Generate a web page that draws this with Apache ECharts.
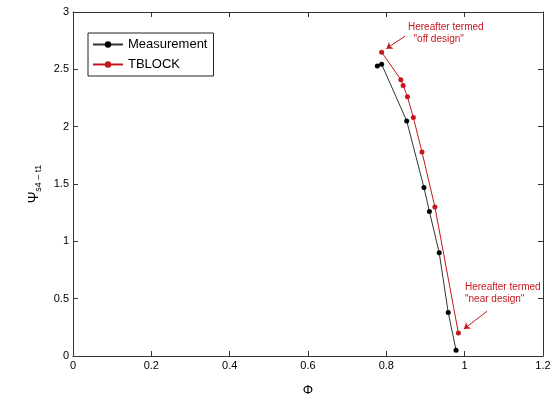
<!DOCTYPE html>
<html>
<head>
<meta charset="utf-8">
<script src="https://cdn.jsdelivr.net/npm/echarts@6/dist/echarts.min.js"></script>
<style>
  html, body { margin: 0; padding: 0; background: #fff; }
  #chart { width: 555px; height: 408px; }
</style>
</head>
<body>
<div id="chart"></div>
<script>
// measured vs TBLOCK loading coefficient
var measurePhi = [0.777, 0.788, 0.852, 0.896, 0.910, 0.935, 0.958, 0.978];
var measurePsi = [2.53, 2.545, 2.05, 1.47, 1.26, 0.90, 0.38, 0.05];
var tblockPhi = [0.788, 0.837, 0.843, 0.854, 0.869, 0.891, 0.924, 0.984];
var tblockPsi = [2.65, 2.41, 2.36, 2.26, 2.08, 1.78, 1.30, 0.20];

// annotation arrows (data coords): [fromX, fromY, toX, toY]
var offArrow = [0.848, 2.79, 0.800, 2.68];
var nearArrow = [1.057, 0.39, 0.998, 0.235];

var red = "#c4161c";

function pairs(xs, ys) {
  return xs.map(function (x, i) {
    return [x, ys[i]];
  });
}

var Chart1 = echarts.init(document.getElementById("chart"));
option = {
  animation: false,
  textStyle: { fontFamily: "Liberation Sans" },
  grid: { left: 73, right: 12, top: 12, bottom: 52 },
  legend: {
    left: 88,
    top: 33,
    orient: "vertical",
    itemGap: 7,
    itemWidth: 30,
    itemHeight: 8,
    padding: [5, 6, 5, 4],
    borderColor: "#222",
    borderWidth: 1,
    textStyle: { fontSize: 13, color: "#000" },
    data: ["Measurement", "TBLOCK"]
  },
  xAxis: [
    {
      type: "value",
      min: 0,
      max: 1.2,
      interval: 0.2,
      name: "Φ",
      nameLocation: "middle",
      nameGap: 28,
      nameTextStyle: { fontSize: 13, color: "#000" },
      axisLine: { onZero: false, lineStyle: { color: "#333" } },
      axisTick: { inside: true, length: 5, lineStyle: { color: "#333" } },
      axisLabel: { fontSize: 11, color: "#000", margin: 4 },
      splitLine: { show: false }
    },
    {
      type: "value",
      position: "top",
      min: 0,
      max: 1.2,
      interval: 0.2,
      axisLine: { show: true, onZero: false, lineStyle: { color: "#333" } },
      axisTick: { show: true, inside: true, length: 5, lineStyle: { color: "#333" } },
      axisLabel: { show: false },
      splitLine: { show: false }
    }
  ],
  yAxis: [
    {
      type: "value",
      min: 0,
      max: 3,
      interval: 0.5,
      name: "{a|Ψ}{b|s4 – t1}",
      nameLocation: "middle",
      nameGap: 23,
      nameTextStyle: {
        rich: {
          a: { fontSize: 14, color: "#000", fontFamily: "Liberation Sans" },
          b: { fontSize: 9, color: "#000", padding: [8, 0, 0, 0], fontFamily: "Liberation Sans" }
        }
      },
      axisLine: { onZero: false, lineStyle: { color: "#333" } },
      axisTick: { inside: true, length: 5, lineStyle: { color: "#333" } },
      axisLabel: { fontSize: 11, color: "#000", margin: 4 },
      splitLine: { show: false }
    },
    {
      type: "value",
      position: "right",
      min: 0,
      max: 3,
      interval: 0.5,
      axisLine: { show: true, onZero: false, lineStyle: { color: "#333" } },
      axisTick: { show: true, inside: true, length: 5, lineStyle: { color: "#333" } },
      axisLabel: { show: false },
      splitLine: { show: false }
    }
  ],
  series: [
    {
      name: "Measurement",
      type: "line",
      data: pairs(measurePhi, measurePsi),
      symbol: "circle",
      symbolSize: 5,
      color: "#000",
      lineStyle: { width: 1, color: "#333" }
    },
    {
      name: "TBLOCK",
      type: "line",
      data: pairs(tblockPhi, tblockPsi),
      symbol: "circle",
      symbolSize: 5,
      color: red,
      lineStyle: { width: 1, color: red },
      markLine: {
        silent: true,
        symbol: ["none", "arrow"],
        symbolSize: 6,
        label: { show: false },
        lineStyle: { color: red, width: 1, type: "solid" },
        data: [
          [{ coord: [offArrow[0], offArrow[1]] }, { coord: [offArrow[2], offArrow[3]] }],
          [{ coord: [nearArrow[0], nearArrow[1]] }, { coord: [nearArrow[2], nearArrow[3]] }]
        ]
      }
    }
  ],
  graphic: [
    {
      type: "text",
      left: 408,
      top: 21,
      style: {
        text: "Hereafter termed\n  \"off design\"",
        fill: red,
        font: "10px Liberation Sans",
        lineHeight: 12
      }
    },
    {
      type: "text",
      left: 465,
      top: 281,
      style: {
        text: "Hereafter termed\n\"near design\"",
        fill: red,
        font: "10px Liberation Sans",
        lineHeight: 12
      }
    }
  ]
};

Chart1.setOption(option);
</script>
</body>
</html>
